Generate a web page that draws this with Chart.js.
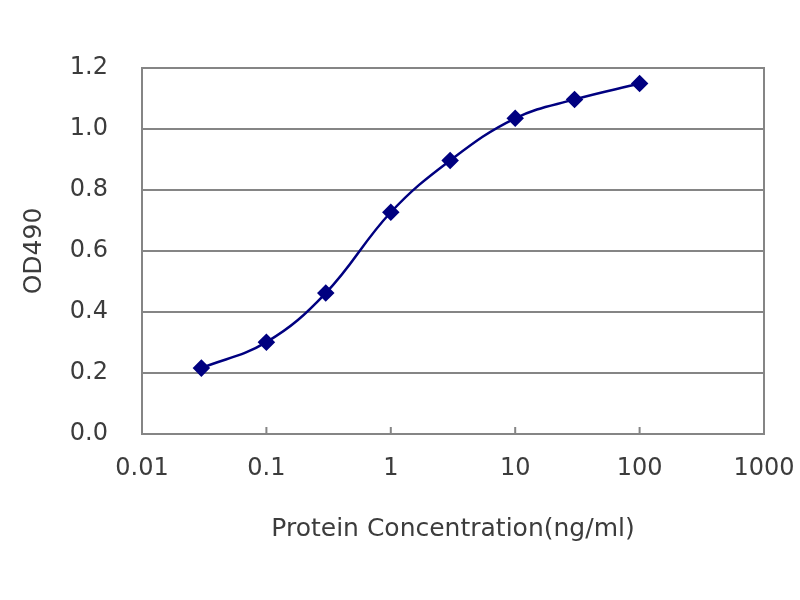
<!DOCTYPE html>
<html>
<head>
<meta charset="utf-8">
<script src="https://cdn.jsdelivr.net/npm/chart.js@4"></script>
<style>
  html, body { margin: 0; padding: 0; background: #fff; }
  #wrap { width: 800px; height: 600px; }
</style>
</head>
<body>
<div id="wrap"><canvas id="chart" width="800" height="600"></canvas></div>
<script>
// values
const concentrations = [0.03, 0.1, 0.3, 1, 3, 10, 30, 100];
const od490 = [0.216, 0.301, 0.462, 0.727, 0.897, 1.035, 1.097, 1.149];
const xTicks = [0.01, 0.1, 1, 10, 100, 1000];
const yTicks = [0, 0.2, 0.4, 0.6, 0.8, 1.0, 1.2];

const navy = '#000080';
const gridGray = '#858585';
const textGray = '#3c3c3c';

// frame around the plot + the little inward ticks on the x axis
const frame = {
  id: 'frame',
  afterDraw(chart) {
    const { ctx, chartArea: a, scales } = chart;
    ctx.save();
    ctx.strokeStyle = gridGray;
    ctx.lineWidth = 2;
    ctx.strokeRect(a.left, a.top, a.right - a.left, a.bottom - a.top);
    ctx.beginPath();
    xTicks.slice(1, -1).forEach(v => {
      const x = scales.x.getPixelForValue(v);
      ctx.moveTo(x, a.bottom);
      ctx.lineTo(x, a.bottom - 7);
    });
    ctx.stroke();
    ctx.restore();
  }
};

const points = concentrations.map((c, i) => ({ x: c, y: od490[i] }));

new Chart(document.getElementById('chart'), {
  type: 'line',
  data: {
    datasets: [{
      data: points,
      borderColor: navy,
      backgroundColor: navy,
      borderWidth: 2.5,
      tension: 0.4,
      pointStyle: 'rectRot',
      pointRadius: 7,
      pointBackgroundColor: navy,
      pointBorderColor: navy,
    }],
  },
  options: {
    responsive: false,
    animation: false,
    layout: { padding: { top: 68, right: 36, left: 0, bottom: 0 } },
    plugins: { legend: { display: false }, tooltip: { enabled: false } },
    scales: {
      x: {
        type: 'logarithmic',
        min: 0.01,
        max: 1000,
        afterBuildTicks: (scale) => { scale.ticks = xTicks.map(v => ({ value: v })); },
        afterFit: (scale) => {
          scale.height = 166;
          scale.paddingLeft = 0;
          scale.paddingRight = 0;
        },
        grid: { display: false, drawTicks: false },
        border: { display: false },
        ticks: {
          padding: 20,
          color: textGray,
          font: { family: 'DejaVu Sans', size: 24 },
          callback: (v) => String(v),
          maxRotation: 0,
        },
        title: {
          display: true,
          text: 'Protein Concentration(ng/ml)',
          color: textGray,
          font: { family: 'DejaVu Sans', size: 25 },
          padding: { top: 0, bottom: 56 },
        },
      },
      y: {
        min: 0,
        max: 1.2,
        afterBuildTicks: (scale) => { scale.ticks = yTicks.map(v => ({ value: v })); },
        afterFit: (scale) => { scale.width = 142; },
        grid: { color: gridGray, lineWidth: 2, drawTicks: false },
        border: { display: false },
        ticks: {
          padding: 34,
          color: textGray,
          font: { family: 'DejaVu Sans', size: 24 },
          callback: (v) => Number(v).toFixed(1),
        },
        title: {
          display: true,
          text: 'OD490',
          color: textGray,
          font: { family: 'DejaVu Sans', size: 25 },
          padding: { top: 19, bottom: 0 },
        },
      },
    },
  },
  plugins: [frame],
});
</script>
</body>
</html>
